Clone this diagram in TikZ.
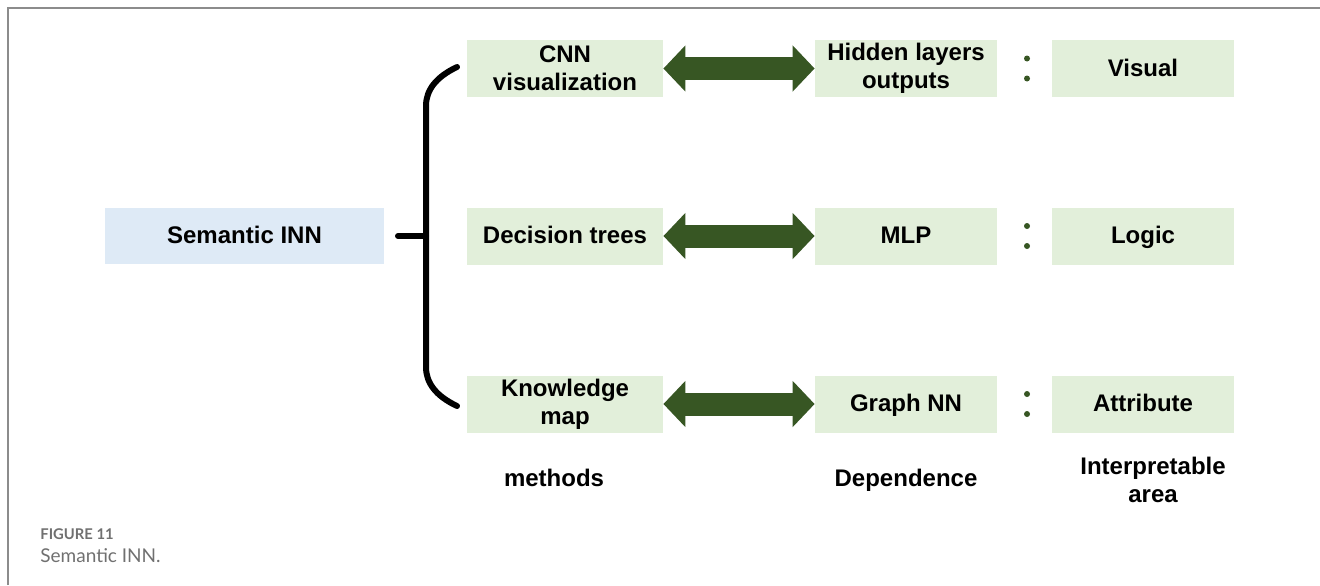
\documentclass[tikz,border=0pt]{standalone}
\usepackage{fontspec}
\setmainfont{Liberation Sans}
\newfontfamily\capfont{Lato}
\usetikzlibrary{arrows.meta}
\definecolor{boxblue}{HTML}{DEEAF6}
\definecolor{boxgreen}{HTML}{E2EFDA}
\definecolor{darkgreen}{HTML}{375623}
\definecolor{framegray}{HTML}{8C8C8C}
\definecolor{capgray}{HTML}{707070}
\begin{document}
\begin{tikzpicture}[x=0.5pt,y=-0.5pt,
    box/.style={fill=boxgreen,align=center,inner sep=0pt,minimum height=28.5pt,font=\bfseries\fontsize{12}{14}\selectfont},
    single/.style={text height=10.5pt,text depth=2.6pt},
    lbl/.style={align=center,inner sep=0pt,font=\bfseries\fontsize{12}{14}\selectfont},
    dblarr/.style={line width=11.5pt,darkgreen,{Triangle[length=11pt,width=22.5pt]}-{Triangle[length=11pt,width=22.5pt]}},
    brace/.style={line width=3pt,line cap=round}
]
\useasboundingbox (0,0) rectangle (1320,585);
\draw[framegray,line width=0.75pt] (8,585) -- (8,8) -- (1320,8);
% root
\node[box,single,fill=boxblue,minimum width=139.5pt,minimum height=28pt] (sem) at (244.5,236) {Semantic INN};
% methods
\node[box,minimum width=98pt] (cnn) at (565,68.5) {CNN\\visualization};
\node[box,single,minimum width=98pt] (tree) at (565,236) {Decision trees};
\node[box,minimum width=98pt] (know) at (565,404) {Knowledge\\map};
% dependence
\node[box,minimum width=91pt] (hid) at (906,68.5) {Hidden layers\\outputs};
\node[box,single,minimum width=91pt] (mlp) at (906,236) {MLP};
\node[box,single,minimum width=91pt] (gnn) at (906,404) {Graph NN};
% interpretable area
\node[box,single,minimum width=91pt] (vis) at (1143,68.5) {Visual};
\node[box,single,minimum width=91pt] (logic) at (1143,236) {Logic};
\node[box,single,minimum width=91pt] (attr) at (1143,404) {Attribute};
% brace
\coordinate (stub) at (398,236);
\coordinate (mid) at (426,236);
\coordinate (btop) at (457,67);
\coordinate (bbot) at (457,406);
\draw[brace] (stub) -- (mid);
\draw[brace] (btop) .. controls (436,77) and (426,90) .. (426,106) -- (426,367) .. controls (426,383) and (436,396) .. (bbot);
% arrows
\draw[dblarr] (cnn) -- (hid);
\draw[dblarr] (tree) -- (mlp);
\draw[dblarr] (know) -- (gnn);
\foreach \y in {68.5,236,404}
    \fill[darkgreen] (1027,\y-10) circle (1.5pt) (1027,\y+10) circle (1.5pt);
% column labels
\node[lbl,single] (lmeth) at (554,479) {methods};
\node[lbl,single] (ldep) at (906,479) {Dependence};
\node[lbl] (larea) at (1153,480) {Interpretable\\area};
% caption
\node[anchor=west,inner sep=0pt,text=capgray,font=\capfont\bfseries\fontsize{7.4}{8}\selectfont] (fig) at (40,534) {FIGURE 11};
\node[anchor=west,inner sep=0pt,text=capgray,font=\capfont\fontsize{9.5}{11}\selectfont] (cap) at (40,556) {Semantic INN.};
\end{tikzpicture}
\end{document}
